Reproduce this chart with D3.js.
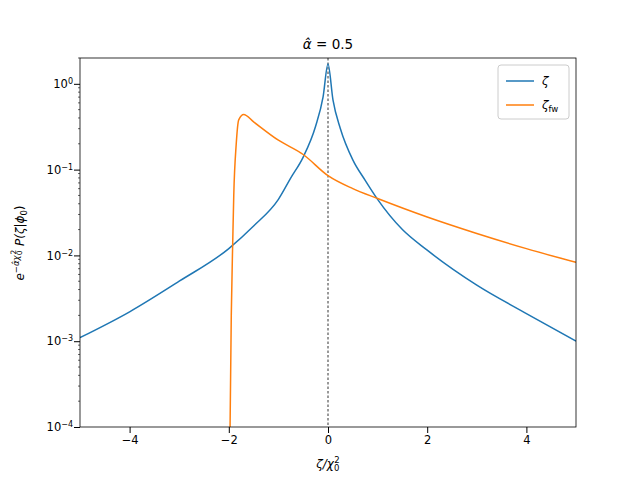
<!DOCTYPE html>
<html><head><meta charset="utf-8">
<script src="https://cdn.jsdelivr.net/npm/d3@7"></script>
<style>body{margin:0;background:#fff}text{font-family:"DejaVu Sans",sans-serif}</style>
</head><body><div id="chart"></div>
<script>
const zetaX = [-5,-4,-3,-2,-1.5,-1,-0.75,-0.5,-0.25,-0.1,0,0.1,0.25,0.5,0.75,1,1.5,2,3,4,5];
const zetaY = [1.1e-3,2.2e-3,5e-3,0.012,0.022,0.045,0.08,0.14,0.32,0.7,1.7,0.65,0.3,0.13,0.075,0.045,0.02,0.0115,4.5e-3,2.1e-3,1e-3];
const fwX = [-1.98,-1.95,-1.92,-1.9,-1.85,-1.8,-1.7,-1.5,-1,-0.5,0,0.5,1,2,3,4,5];
const fwY = [5e-5,2e-3,0.015,0.05,0.2,0.38,0.44,0.36,0.22,0.15,0.085,0.06,0.046,0.028,0.018,0.012,0.0083];
const xTicks = [-4,-2,0,2,4];
const yTicks = [-4,-3,-2,-1,0];

const margin = {top:58,left:80,right:64,bottom:53};
const W = 640-margin.left-margin.right, H = 480-margin.top-margin.bottom;
const svg = d3.select("#chart").append("svg").attr("width",640).attr("height",480);
const g = svg.append("g").attr("transform",`translate(${margin.left},${margin.top})`);
const x = d3.scaleLinear().domain([-5,5]).range([0,W]);
const y = d3.scaleLog().domain([1e-4,2]).range([H,0]);

svg.append("defs").append("clipPath").attr("id","clip").append("rect").attr("width",W).attr("height",H);
const line = d3.line().x(d=>x(d[0])).y(d=>y(d[1])).curve(d3.curveMonotoneX);
const plot = g.append("g").attr("clip-path","url(#clip)");
plot.append("line").attr("x1",x(0)).attr("x2",x(0)).attr("y1",0).attr("y2",H)
  .attr("stroke","#000").attr("stroke-width",0.8).attr("stroke-dasharray","2.5,2");
plot.append("path").datum(zetaX.map((v,i)=>[v,zetaY[i]])).attr("d",line)
  .attr("fill","none").attr("stroke","#1f77b4").attr("stroke-width",1.5);
plot.append("path").datum(fwX.map((v,i)=>[v,fwY[i]])).attr("d",line)
  .attr("fill","none").attr("stroke","#ff7f0e").attr("stroke-width",1.5);

const xa = g.append("g").attr("transform",`translate(0,${H})`)
  .call(d3.axisBottom(x).tickValues(xTicks).tickFormat(d=>d<0?"\u2212"+(-d):d).tickSizeOuter(0));
const ya = g.append("g").call(d3.axisLeft(y).tickValues(yTicks.map(e=>Math.pow(10,e))).tickFormat("").tickSizeOuter(0));
ya.selectAll(".tick").each(function(d){
  const e = Math.round(Math.log10(d));
  const t = d3.select(this).append("text").attr("x",-7).attr("dy","0.32em").attr("fill","#000")
    .attr("text-anchor","end").attr("font-size",11.5);
  t.append("tspan").text("10");
  t.append("tspan").attr("dy","-0.5em").attr("font-size",8).text(e<0?"\u2212"+(-e):e);
});
const minors=[];
for(let e=-4;e<=0;e++)for(let k=2;k<=9;k++){const v=k*Math.pow(10,e);if(v<=2)minors.push(v);}
g.selectAll(".minor").data(minors).enter().append("line")
  .attr("x1",0).attr("x2",-2).attr("y1",d=>y(d)).attr("y2",d=>y(d)).attr("stroke","#000").attr("stroke-width",0.6);
xa.selectAll("text").attr("font-size",11.5);
[xa,ya].forEach(a=>a.select(".domain").remove());
g.append("rect").attr("width",W).attr("height",H).attr("fill","none").attr("stroke","#000").attr("stroke-width",0.8);

svg.append("text").attr("x",margin.left+W/2).attr("y",49).attr("text-anchor","middle").attr("font-size",13.5)
  .html('<tspan font-style="italic">α̂</tspan> = 0.5');
const xl = svg.append("text").attr("x",margin.left+W/2).attr("y",468).attr("text-anchor","middle").attr("font-size",12);
xl.append("tspan").attr("font-style","italic").text("ζ/χ");
xl.append("tspan").attr("dy","3").attr("font-size",8.5).text("0");
xl.append("tspan").attr("dx","-5").attr("dy","-8").attr("font-size",8.5).text("2");
const yl = svg.append("text").attr("transform","translate(24,243) rotate(-90)").attr("text-anchor","middle").attr("font-size",12);
yl.append("tspan").attr("font-style","italic").text("e");
yl.append("tspan").attr("dy","-5").attr("font-size",8.5).attr("font-style","italic").text("−α̂χ");
yl.append("tspan").attr("font-size",7.5).attr("dy","3").text("0");
yl.append("tspan").attr("font-size",7.5).attr("dx","-4").attr("dy","-6").text("2");
yl.append("tspan").attr("dy","8").attr("font-style","italic").text(" P(ζ|ϕ");
yl.append("tspan").attr("dy","3").attr("font-size",8.5).text("0");
yl.append("tspan").attr("dy","-3").text(")");

const lg = svg.append("g").attr("transform","translate(498,65)");
lg.append("rect").attr("width",71).attr("height",54).attr("rx",3).attr("fill","#fff").attr("stroke","#ccc");
[["#1f77b4","ζ",null],["#ff7f0e","ζ","fw"]].forEach((d,i)=>{
  const yy=16+i*24;
  lg.append("line").attr("x1",8).attr("x2",36).attr("y1",yy).attr("y2",yy).attr("stroke",d[0]).attr("stroke-width",1.5);
  const t=lg.append("text").attr("x",44).attr("y",yy+4).attr("font-size",12);
  t.append("tspan").attr("font-style","italic").text(d[1]);
  if(d[2]) t.append("tspan").attr("dy",3).attr("font-size",8.5).text(d[2]);
});
</script></body></html>
